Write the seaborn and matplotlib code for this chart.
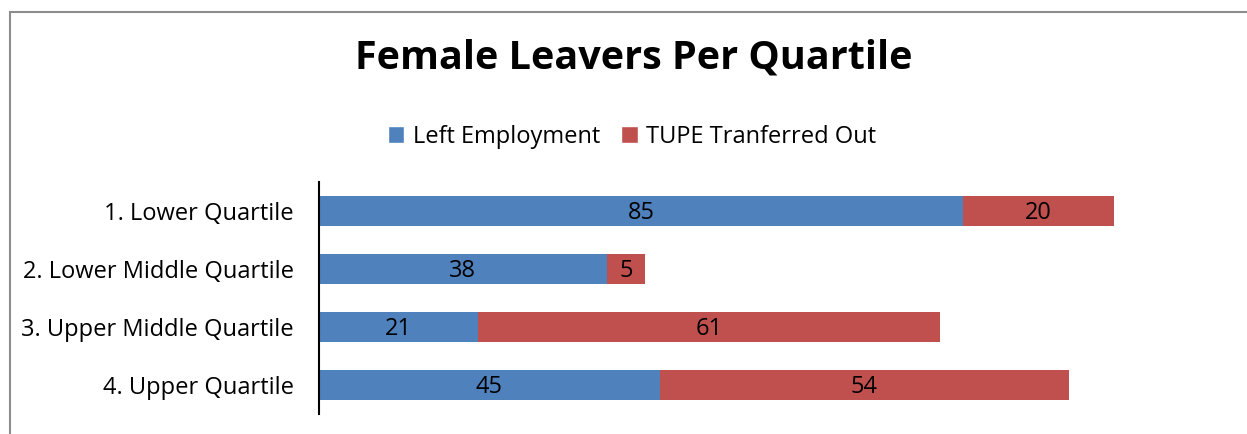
import numpy as np
import pandas as pd
import seaborn as sns
import matplotlib.pyplot as plt
from matplotlib.patches import Patch, Rectangle

# data
quartiles = ['1. Lower Quartile', '2. Lower Middle Quartile',
             '3. Upper Middle Quartile', '4. Upper Quartile']
left_employment = [85, 38, 21, 45]
tupe_out = [20, 5, 61, 54]

blue = '#4F81BD'
red = '#C0504D'

sns.set_theme(style='white')
plt.rcParams['font.family'] = ['Open Sans', 'DejaVu Sans']

data = pd.DataFrame({'quartile': quartiles,
                     'left': left_employment,
                     'tupe': tupe_out})
data['total'] = data['left'] + data['tupe']

W, H = 1247, 434
fig = plt.figure(figsize=(W / 100, H / 100), dpi=100)
ax = fig.add_axes([319 / W, 20 / H, 909 / W, 232 / H])

# stacked bars: total in red underneath, left employment in blue on top
sns.barplot(x='total', y='quartile', data=data, color=red, width=0.52,
            saturation=1, orient='h', linewidth=0, ax=ax)
sns.barplot(x='left', y='quartile', data=data, color=blue, width=0.52,
            saturation=1, orient='h', linewidth=0, ax=ax)

for i, row in data.iterrows():
    ax.text(row['left'] / 2, i + 0.04, str(row['left']), ha='center', va='center',
            fontsize=17, color='black')
    ax.text(row['left'] + row['tupe'] / 2, i + 0.04, str(row['tupe']), ha='center',
            va='center', fontsize=17, color='black')

ax.set_xlim(0, 120)
ax.set_ylim(3.5, -0.5)
ax.set_xlabel('')
ax.set_ylabel('')
ax.set_xticks([])
for side in ['top', 'right', 'bottom']:
    ax.spines[side].set_visible(False)
ax.spines['left'].set_color('black')
ax.spines['left'].set_linewidth(1.5)
ax.tick_params(axis='y', length=0, pad=18, labelsize=17, labelcolor='black')

fig.text(634 / W, 1 - 58 / H, 'Female Leavers Per Quartile', ha='center',
         va='center', fontsize=28.5, fontweight='bold', color='black')

handles = [Patch(facecolor=blue, label='Left Employment'),
           Patch(facecolor=red, label='TUPE Tranferred Out')]
leg = fig.legend(handles=handles, loc='center', bbox_to_anchor=(632 / W, 1 - 137 / H),
                 ncol=2, frameon=False, fontsize=17, handlelength=0.7,
                 handleheight=0.7, handletextpad=0.35, columnspacing=0.9)
for t in leg.get_texts():
    t.set_color('black')

# chart border
fig.patches.append(Rectangle((10 / W, -0.1), 2, 1 - 12 / H + 0.1,
                             transform=fig.transFigure, fill=False,
                             edgecolor='#8c8c8c', linewidth=1.5))

fig.savefig('out.png', dpi=100)
